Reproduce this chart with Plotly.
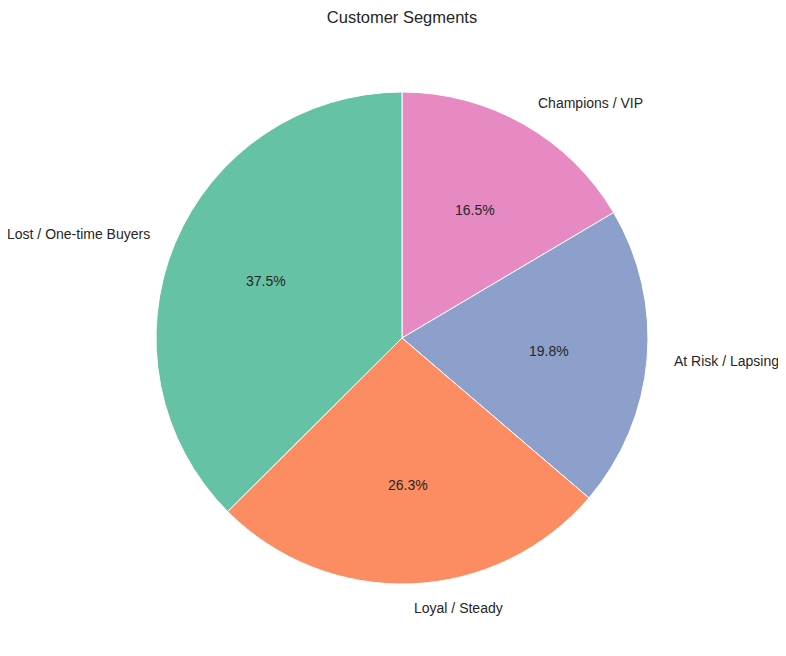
import numpy as np
import plotly.graph_objects as go

segments = ["Lost / One-time Buyers", "Loyal / Steady", "At Risk / Lapsing", "Champions / VIP"]
shares = [37.5, 26.3, 19.8, 16.5]
colors = ["#66c2a5", "#fc8d62", "#8da0cb", "#e78ac3"]

W, H = 786, 656
off = 8  # page body margin shifts the figure
cx, cy, r = 402 - off, 338 - off, 246
font = "Liberation Sans, Arial, sans-serif"
txt = "#262626"

# matplotlib draws counterclockwise from 12 o'clock; same as clockwise on reversed order
fig = go.Figure(go.Pie(
    labels=segments[::-1], values=shares[::-1], sort=False, direction="clockwise", rotation=0,
    marker=dict(colors=colors[::-1], line=dict(color="white", width=1)),
    textinfo="none", hoverinfo="label+percent", showlegend=False,
    domain=dict(x=[(cx - r) / W, (cx + r) / W], y=[1 - (cy + r) / H, 1 - (cy - r) / H]),
))

# label / percent positions follow matplotlib's pie (labeldistance 1.1, pctdistance 0.6)
total = sum(shares)
start = 90.0
for name, v in zip(segments, shares):
    span = v / total * 360
    mid = np.radians(start + span / 2)
    start += span
    c, s = np.cos(mid), np.sin(mid)
    lx, ly = cx + 1.1 * r * c, cy - 1.1 * r * s
    fig.add_annotation(x=lx / W, y=1 - ly / H, xref="paper", yref="paper", text=name,
                       showarrow=False, xanchor="left" if c > 0 else "right", yanchor="middle",
                       font=dict(size=14, color=txt, family=font))
    px_, py_ = cx + 0.6 * r * c, cy - 0.6 * r * s
    fig.add_annotation(x=px_ / W, y=1 - py_ / H, xref="paper", yref="paper",
                       text=f"{v / total * 100:.1f}%", showarrow=False,
                       xanchor="center", yanchor="middle",
                       font=dict(size=14, color=txt, family=font))

fig.update_layout(
    width=W, height=H, margin=dict(l=0, r=0, t=0, b=0),
    paper_bgcolor="white", plot_bgcolor="white",
    title=dict(text="Customer Segments", x=(402 - off) / W, xanchor="center",
               y=1 - (17 - off) / H, yanchor="middle",
               font=dict(size=16.5, color=txt, family=font)),
)

fig.write_html("out.html")
